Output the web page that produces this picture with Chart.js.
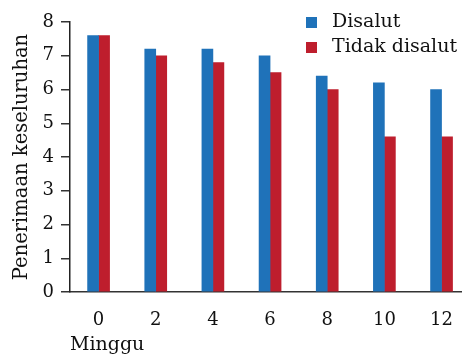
<!DOCTYPE html>
<html>
<head>
<meta charset="utf-8">
<script src="https://cdn.jsdelivr.net/npm/chart.js@4.4.1/dist/chart.umd.min.js"></script>
<style>
  html, body { margin: 0; padding: 0; background: #fff; }
  #wrap { width: 463px; height: 359px; position: relative; }
</style>
</head>
<body>
<div id="wrap"><canvas id="grafico"></canvas></div>
<script>
// datos
const minggu = [0, 2, 4, 6, 8, 10, 12];
const disalut = [7.6, 7.2, 7.2, 7.0, 6.4, 6.2, 6.0];
const tidakDisalut = [7.6, 7.0, 6.8, 6.5, 6.0, 4.6, 4.6];
const etiquetasY = [0, 1, 2, 3, 4, 5, 6, 7, 8];

const FUENTE = 'DejaVu Serif';
const AZUL = '#1f72b9';
const ROJO = '#be1e2d';

function aPuntos(valores) {
    return minggu.map((m, i) => ({ x: m, y: valores[i] }));
}

// leyenda dibujada dentro del area del grafico
const leyendaInterna = {
    id: 'leyendaInterna',
    afterDraw(chart) {
        const ctx = chart.ctx;
        ctx.save();
        ctx.font = '19px "' + FUENTE + '"';
        ctx.textBaseline = 'middle';
        ctx.textAlign = 'left';
        chart.data.datasets.forEach((ds, i) => {
            const y = 22 + i * 25;
            ctx.fillStyle = ds.backgroundColor;
            ctx.fillRect(306, y - 5, 11, 11);
            ctx.fillStyle = '#111';
            ctx.fillText(ds.label, 332, y);
        });
        ctx.restore();
    }
};

const ctx = document.getElementById('grafico').getContext('2d');
new Chart(ctx, {
    type: 'bar',
    data: {
        datasets: [
            { label: 'Disalut', data: aPuntos(disalut), backgroundColor: AZUL, barThickness: 11 },
            { label: 'Tidak disalut', data: aPuntos(tidakDisalut), backgroundColor: ROJO, barThickness: 11 }
        ]
    },
    options: {
        responsive: true,
        maintainAspectRatio: false,
        animation: false,
        layout: { padding: { top: 22, right: 0, bottom: 0, left: 0 } },
        plugins: {
            legend: { display: false },
            tooltip: { enabled: false }
        },
        scales: {
            x: {
                type: 'linear',
                offset: false,
                min: -1,
                max: 12.7,
                grid: { display: false },
                border: { display: true, color: '#333', width: 1.5 },
                afterBuildTicks: (scale) => {
                    scale.ticks = minggu.map(v => ({ value: v }));
                },
                afterFit: (scale) => { scale.height = 67; },
                ticks: {
                    color: '#111',
                    padding: 10,
                    maxRotation: 0,
                    autoSkip: false,
                    font: { family: FUENTE, size: 18 }
                },
                title: {
                    display: true,
                    text: 'Minggu',
                    align: 'start',
                    color: '#111',
                    padding: { top: 0, bottom: 3 },
                    font: { family: FUENTE, size: 19 }
                }
            },
            y: {
                min: 0,
                max: 8,
                grid: {
                    display: true,
                    drawOnChartArea: false,
                    drawTicks: true,
                    tickLength: 9,
                    color: '#333',
                    lineWidth: 1.5
                },
                border: { display: true, color: '#222', width: 1.5 },
                afterBuildTicks: (scale) => {
                    scale.ticks = etiquetasY.map(v => ({ value: v }));
                },
                afterFit: (scale) => { scale.width = 70; },
                ticks: {
                    color: '#111',
                    padding: 7,
                    font: { family: FUENTE, size: 18 }
                },
                title: {
                    display: true,
                    text: 'Penerimaan keseluruhan',
                    color: '#111',
                    padding: { top: 10, bottom: 0 },
                    font: { family: FUENTE, size: 19.5 }
                }
            }
        }
    },
    plugins: [leyendaInterna]
});
</script>
</body>
</html>
